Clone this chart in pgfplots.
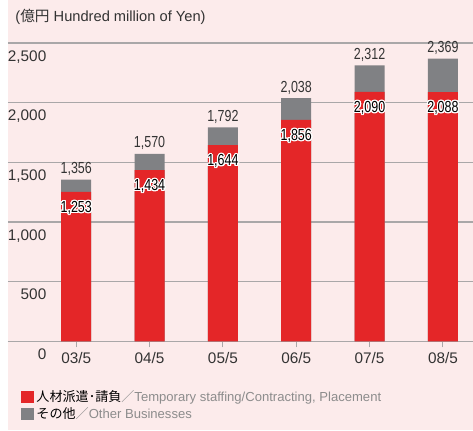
\documentclass[border=0pt]{standalone}
\usepackage{fontspec}
\setmainfont{Liberation Sans}
\newfontfamily\cjk{Noto Sans CJK JP}
\newfontfamily\cond[FakeStretch=0.78]{Liberation Sans}
\usepackage{pgfplots}
\pgfplotsset{compat=1.18}
\usepackage{pgfplotstable}
\usepackage{contour}
\contourlength{0.9pt}
\contournumber{20}

\definecolor{bgpink}{HTML}{FCEBEB}
\definecolor{redc}{HTML}{E42628}
\definecolor{grayc}{HTML}{808184}
\definecolor{gridc}{HTML}{A9A7A8}
\definecolor{txt}{HTML}{333333}
\definecolor{lgray}{HTML}{8C8C8C}

% sales, hundred million yen: staffing part and total
\pgfplotstableread{
x red tot redlab totlab
0 1253 1356 1,253 1,356
1 1434 1570 1,434 1,570
2 1644 1792 1,644 1,792
3 1856 2038 1,856 2,038
4 2090 2312 2,090 2,312
5 2088 2369 2,088 2,369
}\sales

\begin{document}
\begin{tikzpicture}
\fill[bgpink] (0pt,-66.4pt) rectangle (348.75pt,256.1pt);
\useasboundingbox (-6pt,-66.4pt) rectangle (348.75pt,256.1pt);
\node[anchor=west, font=\fontsize{11}{13}\selectfont, text=txt] at (2pt,243.4pt)
  {({\cjk 億円} Hundred million of Yen)};
\begin{axis}[
    at={(0,0)}, anchor=south west, scale only axis,
    width=348.75pt, height=223.9pt,
    xmin=-0.93, xmax=5.41, ymin=0, ymax=2500,
    clip=false,
    ybar, bar width=22.5pt,
    axis x line=bottom, axis y line=left,
    x axis line style={-, draw=gridc, line width=1pt},
    y axis line style={draw=none},
    xtick={0,...,5},
    xticklabels={03/5,04/5,05/5,06/5,07/5,08/5},
    xtick align=outside,
    xtick style={draw=gridc, line width=0.8pt},
    major tick length=4.5pt,
    ytick={0,500,...,2500}, ytick style={draw=none},
    ymajorgrids, grid style={gridc, line width=1pt},
    yticklabel style={anchor=north east, xshift=34.5pt, yshift=-2pt},
    tick label style={font=\fontsize{11.5}{13}\selectfont, text=txt},
    /pgf/number format/assume math mode=true,
    /pgf/number format/1000 sep={,},
    legend style={at={(0.028,-0.155)}, anchor=north west, draw=none, fill=none,
        font=\fontsize{9.8}{11}\selectfont, inner sep=0pt, row sep=-1.2pt},
    legend cell align=left,
    reverse legend,
]
\addplot[fill=grayc, draw=none, bar shift=0pt, point meta=explicit symbolic,
    nodes near coords={\pgfplotspointmeta},
    nodes near coords style={anchor=south, yshift=-0.5pt, font=\cond\fontsize{12}{13}\selectfont, text=txt},
    legend image code/.code={\fill[grayc] (0pt,-4.7pt) rectangle (9.4pt,4.7pt);}]
    table[x=x, y=tot, meta=totlab] {\sales};
\addlegendentry{{\cjk その他}\textcolor{lgray}{{\cjk ／}Other Businesses}}
\addplot[fill=redc, draw=none, bar shift=0pt, point meta=explicit symbolic,
    nodes near coords={\contour{white}{\pgfplotspointmeta}},
    nodes near coords style={anchor=north, yshift=-3.5pt, font=\cond\fontsize{12}{13}\selectfont, text=black},
    legend image code/.code={\fill[redc] (0pt,-4.7pt) rectangle (9.4pt,4.7pt);}]
    table[x=x, y=red, meta=redlab] {\sales};
\addlegendentry{{\cjk 人材派遣･請負}\textcolor{lgray}{{\cjk ／}Temporary staffing/Contracting, Placement}}
\end{axis}
\end{tikzpicture}
\end{document}
